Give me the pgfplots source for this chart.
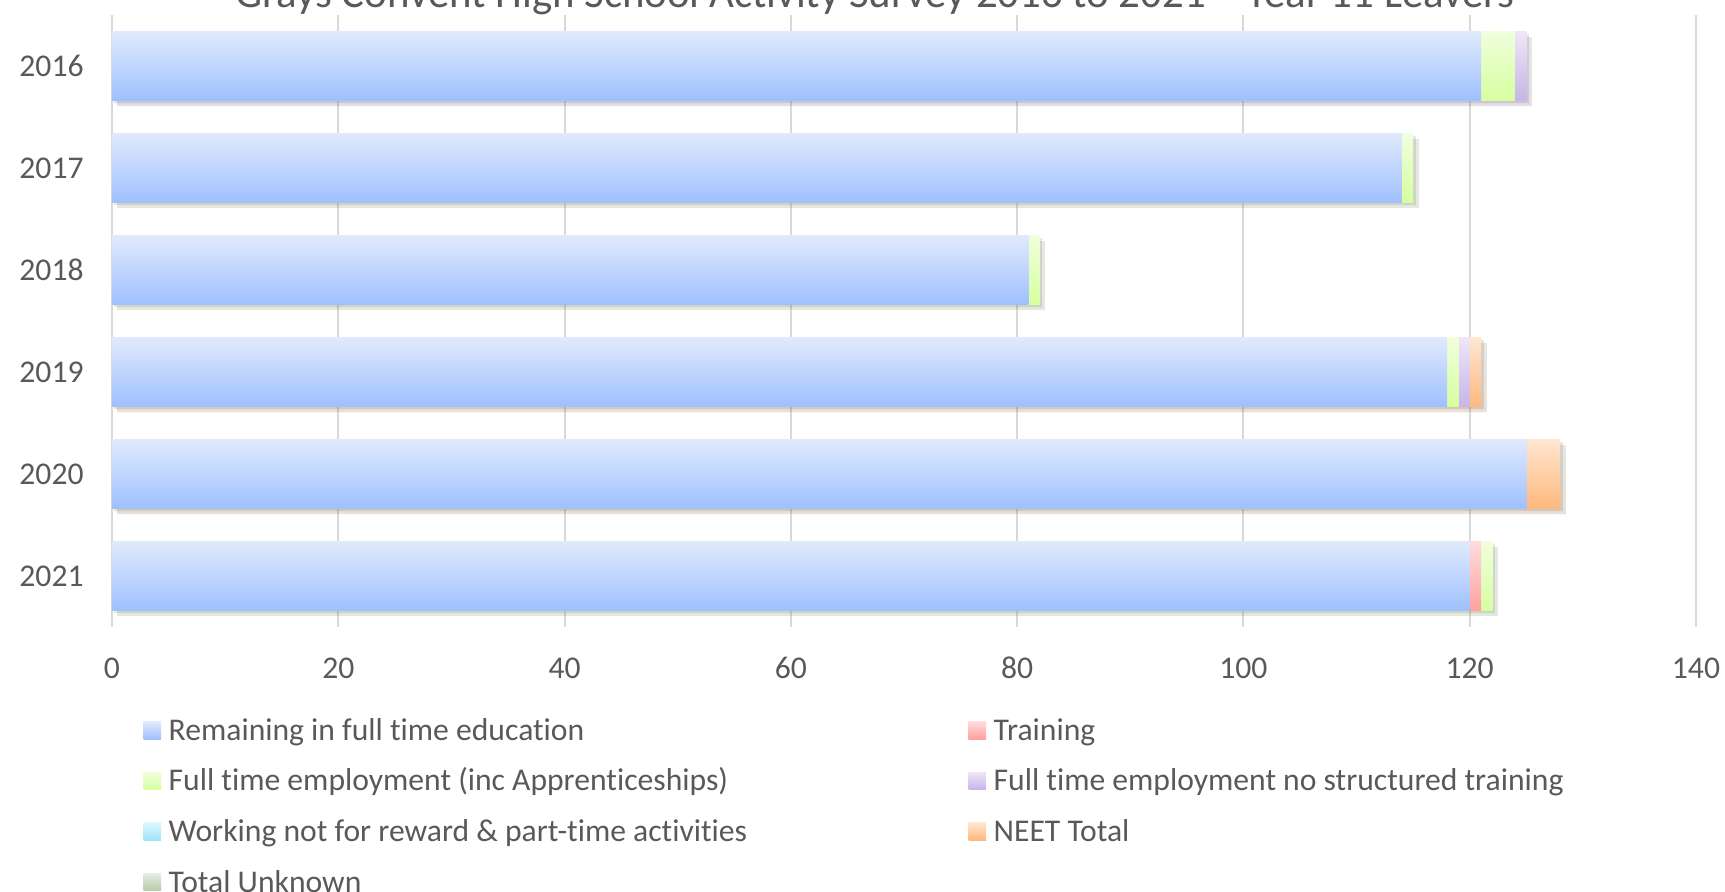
\documentclass[border=0pt]{standalone}
\usepackage{pgfplots}
\pgfplotsset{compat=1.18}
\usepackage{fontspec}
\setmainfont{Carlito}[Ligatures=NoCommon]
\definecolor{txt}{HTML}{595959}
\definecolor{gridc}{HTML}{D9D9D9}
\definecolor{bluet}{HTML}{E0EAFC}\definecolor{blueb}{HTML}{9FC0FF}
\definecolor{pinkt}{HTML}{FFDCDC}\definecolor{pinkb}{HTML}{FFA0A0}
\definecolor{greent}{HTML}{F0FFDC}\definecolor{greenb}{HTML}{D6FFA0}
\definecolor{purpt}{HTML}{EEE6F8}\definecolor{purpb}{HTML}{C8B4E8}
\definecolor{cyant}{HTML}{DCF6FF}\definecolor{cyanb}{HTML}{A0E4F8}
\definecolor{oranget}{HTML}{FFE6D2}\definecolor{orangeb}{HTML}{FFB87C}
\definecolor{unkt}{HTML}{E4ECE0}\definecolor{unkb}{HTML}{B4CCAA}
\pgfplotsset{
  sblue/.style={top color=bluet, bottom color=blueb, draw=none},
  spink/.style={top color=pinkt, bottom color=pinkb, draw=none},
  sgreen/.style={top color=greent, bottom color=greenb, draw=none},
  spurp/.style={top color=purpt, bottom color=purpb, draw=none},
  scyan/.style={top color=cyant, bottom color=cyanb, draw=none},
  sorange/.style={top color=oranget, bottom color=orangeb, draw=none},
  sunk/.style={top color=unkt, bottom color=unkb, draw=none},
  shad/.style={preaction={fill=black, opacity=0.10, transform canvas={shift={(0.25mm,-0.25mm)}}},
               preaction={fill=black, opacity=0.10, transform canvas={shift={(0.55mm,-0.55mm)}}}},
  seg/.style={xbar, bar width=6.9mm, bar shift=0pt, forget plot},
}
\begin{document}
\begin{tikzpicture}
\begin{axis}[
  scale only axis, width=158.4mm, height=61.2mm,
  xmin=0, xmax=140, xtick={0,20,...,140},
  ymin=-0.5, ymax=5.5,
  ytick={0,...,5}, yticklabels={2021,2020,2019,2018,2017,2016},
  xmajorgrids, grid style={draw=gridc, line width=0.6pt},
  axis line style={draw=none}, major tick length=0pt,
  tick label style={font=\fontsize{9}{11}\selectfont, text=txt},
  /pgf/number format/assume math mode=true,
  typeset ticklabels with strut,
  xticklabel style={yshift=-1.25mm},
  yticklabel style={xshift=-1.6mm, yshift=-0.25mm},
  legend columns=2,
  legend style={at={(0,0)}, anchor=north west, xshift=3.1mm, yshift=-7.75mm,
    draw=none, fill=none, inner sep=0pt, 
    font=\fontsize{9}{11}\selectfont, text=txt,
    /tikz/every even column/.append style={column sep=0pt},
    /tikz/every row/.append style={row sep=0pt},
    nodes={inner sep=0pt, text height=10pt, text depth=4.4pt}},
  legend cell align=left,
  legend image code/.code={\path[#1] (0mm,-0.85mm) rectangle (1.75mm,0.9mm); \path (2.5mm,0mm);},
]
% legend
\addlegendimage{sblue}\addlegendentry{\makebox[80mm][l]{Remaining in full time education}}
\addlegendimage{spink}\addlegendentry{Training}
\addlegendimage{sgreen}\addlegendentry{\makebox[80mm][l]{Full time employment (inc Apprenticeships)}}
\addlegendimage{spurp}\addlegendentry{Full time employment no structured training}
\addlegendimage{scyan}\addlegendentry{\makebox[80mm][l]{Working not for reward \& part-time activities}}
\addlegendimage{sorange}\addlegendentry{NEET Total}
\addlegendimage{sunk}\addlegendentry{\makebox[80mm][l]{Total Unknown}}
% y=5: 2016 ... y=0: 2021 (cumulative ends of stacked segments)
% 2016: remaining 121, FT employment 3, FT no training 1
\addplot[seg, spurp, shad] coordinates {(125,5)};
\addplot[seg, sgreen] coordinates {(124,5)};
\addplot[seg, sblue] coordinates {(121,5)};
% 2017: 114, FT employment 1
\addplot[seg, sgreen, shad] coordinates {(115,4)};
\addplot[seg, sblue] coordinates {(114,4)};
% 2018: 81, FT employment 1
\addplot[seg, sgreen, shad] coordinates {(82,3)};
\addplot[seg, sblue] coordinates {(81,3)};
% 2019: 118, FT emp 1, FT no training 1, NEET 1
\addplot[seg, sorange, shad] coordinates {(121,2)};
\addplot[seg, spurp] coordinates {(120,2)};
\addplot[seg, sgreen] coordinates {(119,2)};
\addplot[seg, sblue] coordinates {(118,2)};
% 2020: 125, NEET 3
\addplot[seg, sorange, shad] coordinates {(128,1)};
\addplot[seg, sblue] coordinates {(125,1)};
% 2021: 120, Training 1, FT emp 1
\addplot[seg, sgreen, shad] coordinates {(122,0)};
\addplot[seg, spink] coordinates {(121,0)};
\addplot[seg, sblue] coordinates {(120,0)};
\end{axis}
\node[anchor=base, font=\fontsize{12.2}{14}\selectfont, text=txt] at (76.3mm,61.9mm) {Grays Convent High School Activity Survey 2016 to 2021 – Year 11 Leavers};
\pgfresetboundingbox
\path[use as bounding box] (-11.2mm,-26.5mm) rectangle (161.3mm,62.7mm);
\end{tikzpicture}
\end{document}
